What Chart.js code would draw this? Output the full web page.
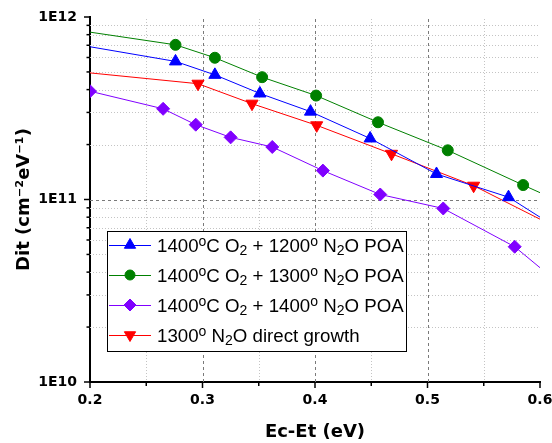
<!DOCTYPE html>
<html>
<head>
<meta charset="utf-8">
<title>Dit vs Ec-Et</title>
<script src="https://cdn.jsdelivr.net/npm/chart.js@4.4.0/dist/chart.umd.min.js"></script>
<style>
  html, body { margin: 0; padding: 0; background: #fff; }
</style>
</head>
<body>
<canvas id="myChart" width="552" height="443"></canvas>
<script>
// axis ticks
var xTicks = [0.2, 0.3, 0.4, 0.5, 0.6];
var xMinor = [0.25, 0.35, 0.45, 0.55];
var yTicks = [1e10, 1e11, 1e12];
var yMinor = [2e10, 3e10, 4e10, 5e10, 6e10, 7e10, 8e10, 9e10,
              2e11, 3e11, 4e11, 5e11, 6e11, 7e11, 8e11, 9e11];

// series (Ec-Et in eV, Dit in cm^-2 eV^-1)
// mark = 1 where a symbol is drawn, 0 where the line only runs on to the axis
var names = [
    "1400^oC O_2 + 1200^o N_2O POA",
    "1400^oC O_2 + 1300^o N_2O POA",
    "1400^oC O_2 + 1400^o N_2O POA",
    "1300^o N_2O direct growth"
];

var x1200 = [0.2, 0.276, 0.311, 0.351, 0.396, 0.449, 0.508, 0.572, 0.6];
var y1200 = [6.87e11, 5.71e11, 4.82e11, 3.81e11, 3.03e11, 2.16e11, 1.38e11, 1.03e11, 8.0e10];
var m1200 = [0, 1, 1, 1, 1, 1, 1, 1, 0];

var x1300 = [0.2, 0.276, 0.311, 0.353, 0.401, 0.456, 0.518, 0.585, 0.6];
var y1300 = [8.26e11, 7.04e11, 5.98e11, 4.68e11, 3.71e11, 2.65e11, 1.86e11, 1.20e11, 1.09e11];
var m1300 = [0, 1, 1, 1, 1, 1, 1, 1, 0];

var x1400 = [0.2, 0.265, 0.294, 0.325, 0.362, 0.407, 0.458, 0.514, 0.5775, 0.6];
var y1400 = [3.92e11, 3.14e11, 2.57e11, 2.19e11, 1.94e11, 1.44e11, 1.065e11, 8.93e10, 5.51e10, 4.23e10];
var m1400 = [1, 1, 1, 1, 1, 1, 1, 1, 1, 0];

var xDirect = [0.2, 0.296, 0.344, 0.4015, 0.468, 0.541, 0.6];
var yDirect = [4.94e11, 4.31e11, 3.35e11, 2.55e11, 1.78e11, 1.19e11, 7.8e10];
var mDirect = [0, 1, 1, 1, 1, 1, 0];

var colors = ["#0000ff", "#008000", "#8000ff", "#ff0000"];
var markers = [
    { style: "triangle", rot: 0, r: 7 },
    { style: "circle", rot: 0, r: 5.5 },
    { style: "rectRot", rot: 0, r: 6.5 },
    { style: "triangle", rot: 180, r: 7 }
];

function makeSet(i, xs, ys, ms) {
    return {
        label: names[i],
        data: xs.map(function(x, k) { return { x: x, y: ys[k] }; }),
        borderColor: colors[i],
        backgroundColor: colors[i],
        borderWidth: 1,
        tension: 0,
        clip: 0,
        pointStyle: markers[i].style,
        rotation: markers[i].rot,
        pointRadius: ms.map(function(m) { return m ? markers[i].r : 0; }),
        pointHoverRadius: ms.map(function(m) { return m ? markers[i].r : 0; }),
        pointBorderWidth: 1
    };
}

// text with ^x (superscript) and _x (subscript)
function drawRich(ctx, text, x, y, size) {
    text.split(/(\^.|_.)/).filter(function(s) { return s; }).forEach(function(p) {
        var kind = p[0] == "^" ? "sup" : (p[0] == "_" ? "sub" : "");
        var s = kind ? p.slice(1) : p;
        var fs = kind ? Math.round(size * 0.74) : size;
        var dy = kind == "sup" ? -size * 0.28 : (kind == "sub" ? size * 0.2 : 0);
        ctx.font = fs + 'px "Liberation Sans", Arial, sans-serif';
        ctx.fillText(s, x, y + dy);
        x += ctx.measureText(s).width;
    });
}

var gridLines = {
    id: "gridLines",
    beforeDatasetsDraw: function(chart) {
        var ctx = chart.ctx, a = chart.chartArea;
        var sx = chart.scales.x, sy = chart.scales.y;
        function vline(v) {
            var p = Math.round(sx.getPixelForValue(v)) + 0.5;
            ctx.beginPath(); ctx.moveTo(p, a.top + 2); ctx.lineTo(p, a.bottom); ctx.stroke();
        }
        function hline(v) {
            var p = Math.round(sy.getPixelForValue(v)) + 0.5;
            ctx.beginPath(); ctx.moveTo(a.left, p); ctx.lineTo(a.right - 2, p); ctx.stroke();
        }
        ctx.save();
        ctx.lineWidth = 1;
        ctx.strokeStyle = "#c4c4c4";
        ctx.setLineDash([1, 2]);
        xMinor.forEach(vline);
        yMinor.forEach(hline);
        ctx.strokeStyle = "#7a7a7a";
        ctx.setLineDash([3, 3]);
        xTicks.slice(1, -1).forEach(vline);
        yTicks.slice(1, -1).forEach(hline);
        ctx.restore();
    },
    afterDraw: function(chart) {
        var ctx = chart.ctx, a = chart.chartArea;
        var sx = chart.scales.x, sy = chart.scales.y;
        ctx.save();
        ctx.strokeStyle = "#000";
        ctx.lineWidth = 1.5;
        function tx(v, len) {
            var p = sx.getPixelForValue(v);
            ctx.beginPath(); ctx.moveTo(p, a.bottom); ctx.lineTo(p, a.bottom + len); ctx.stroke();
        }
        function ty(v, len) {
            var p = sy.getPixelForValue(v);
            ctx.beginPath(); ctx.moveTo(a.left, p); ctx.lineTo(a.left - len, p); ctx.stroke();
        }
        xTicks.forEach(function(v) { tx(v, 6); });
        xMinor.forEach(function(v) { tx(v, 4); });
        yTicks.forEach(function(v) { ty(v, 6); });
        yMinor.forEach(function(v) { ty(v, 3.5); });
        ctx.restore();
    }
};

var boxLegend = {
    id: "boxLegend",
    afterDatasetsDraw: function(chart) {
        var ctx = chart.ctx;
        var left = 107, top = 231, w = 299, h = 120;
        ctx.save();
        ctx.fillStyle = "#fff";
        ctx.fillRect(left, top, w, h);
        ctx.strokeStyle = "#000";
        ctx.lineWidth = 1;
        ctx.strokeRect(left + 0.5, top + 0.5, w, h);
        chart.data.datasets.forEach(function(ds, i) {
            var y = 245 + i * 30;
            ctx.strokeStyle = colors[i];
            ctx.lineWidth = 1;
            ctx.beginPath(); ctx.moveTo(109, y + 0.5); ctx.lineTo(151, y + 0.5); ctx.stroke();
            ctx.fillStyle = colors[i];
            Chart.helpers.drawPoint(ctx, {
                pointStyle: markers[i].style,
                rotation: markers[i].rot,
                radius: markers[i].r - 0.5,
                borderWidth: 1
            }, 130, y);
            ctx.fillStyle = "#000";
            ctx.textBaseline = "alphabetic";
            ctx.textAlign = "left";
            drawRich(ctx, ds.label, 157, y + 6.5, 18.7);
        });
        ctx.restore();
    }
};

new Chart(document.getElementById("myChart").getContext("2d"), {
    type: "line",
    data: {
        datasets: [
            makeSet(0, x1200, y1200, m1200),
            makeSet(1, x1300, y1300, m1300),
            makeSet(2, x1400, y1400, m1400),
            makeSet(3, xDirect, yDirect, mDirect)
        ]
    },
    options: {
        responsive: false,
        animation: false,
        devicePixelRatio: 1,
        layout: { padding: { top: 17, right: 12, left: 0, bottom: 0 } },
        plugins: { legend: { display: false }, tooltip: { enabled: false } },
        scales: {
            x: {
                type: "linear",
                min: 0.2,
                max: 0.6,
                afterBuildTicks: function(s) { s.ticks = xTicks.map(function(v) { return { value: v }; }); },
                afterFit: function(s) { s.height = 61; s.paddingLeft = 0; s.paddingRight = 0; },
                grid: { display: true, drawOnChartArea: false, drawTicks: false },
                border: { display: true, color: "#000", width: 2 },
                ticks: {
                    color: "#000",
                    padding: 10,
                    font: { family: "DejaVu Sans", size: 14, weight: "bold" },
                    callback: function(v) { return v.toFixed(1); }
                },
                title: {
                    display: true,
                    text: "Ec-Et (eV)",
                    color: "#000",
                    padding: { top: 0, bottom: 0 },
                    font: { family: "DejaVu Sans", size: 18, weight: "bold" }
                }
            },
            y: {
                type: "logarithmic",
                min: 1e10,
                max: 1e12,
                afterBuildTicks: function(s) { s.ticks = yTicks.map(function(v) { return { value: v }; }); },
                afterFit: function(s) { s.width = 90; s.paddingTop = 0; s.paddingBottom = 0; },
                grid: { display: true, drawOnChartArea: false, drawTicks: false },
                border: { display: true, color: "#000", width: 2 },
                ticks: {
                    color: "#000",
                    padding: 13,
                    font: { family: "DejaVu Sans", size: 14, weight: "bold" },
                    callback: function(v) { return "1E" + Math.round(Math.log10(v)); }
                },
                title: {
                    display: true,
                    text: "Dit (cm\u207B\u00B2eV\u207B\u00B9)",
                    color: "#000",
                    padding: { top: 14, bottom: 0 },
                    font: { family: "DejaVu Sans", size: 18, weight: "bold" }
                }
            }
        }
    },
    plugins: [gridLines, boxLegend]
});
</script>
</body>
</html>
